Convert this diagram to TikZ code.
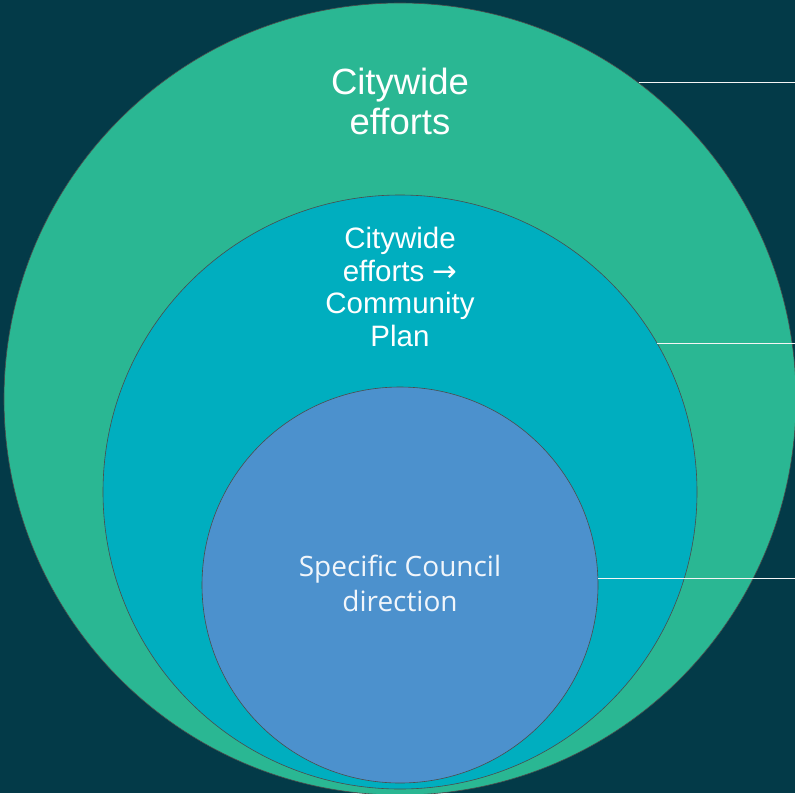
\documentclass[tikz,border=0pt]{standalone}
\usepackage{fontspec}
\setmainfont{Liberation Sans}
\newfontfamily\councilfont{Open Sans}
\newfontfamily\arrowfont{DejaVu Sans}
\usetikzlibrary{positioning}
\definecolor{deepteal}{RGB}{3,58,72}
\definecolor{citygreen}{RGB}{42,183,147}
\definecolor{plancyan}{RGB}{0,174,191}
\definecolor{councilblue}{RGB}{76,145,205}

\begin{document}
\begin{tikzpicture}[
  x=1pt, y=-1pt,
  ring/.style={circle, draw=black!70, line width=0.6pt, inner sep=0pt},
  ringtext/.style={text=white, align=center, inner sep=0pt},
  tagline/.style={draw=white!92!gray, line width=1pt}
]
  \fill[deepteal] (0,0) rectangle (795,793);
  \useasboundingbox (0,0) rectangle (795,793);

  \node[ring, fill=citygreen, minimum size=792pt] (outer) at (400,399) {};
  \node[ring, fill=plancyan, minimum size=594pt] (plan) at (400,492) {};
  \node[ring, fill=councilblue, minimum size=396pt] (council) at (400,585) {};

  \node[ringtext, font=\fontsize{36.5}{40}\selectfont] (citytext) at (400,101) {Citywide\\efforts};
  \node[ringtext, font=\fontsize{29.5}{32.5}\selectfont] (plantext) at (400,287) {Citywide\\efforts {\arrowfont →}\\Community\\Plan};
  \node[ringtext, text=white!92!councilblue, font=\councilfont\fontsize{28}{35}\selectfont] (counciltext) at (400,583.5) {Specific Council\\direction};

  \coordinate (edge) at (795,0);
  \draw[tagline] (outer.53.2) -- (outer.53.2 -| edge);
  \draw[tagline] (plan.30.8) -- (plan.30.8 -| edge);
  \draw[tagline] (council.2) -- (council.2 -| edge);
\end{tikzpicture}
\end{document}
